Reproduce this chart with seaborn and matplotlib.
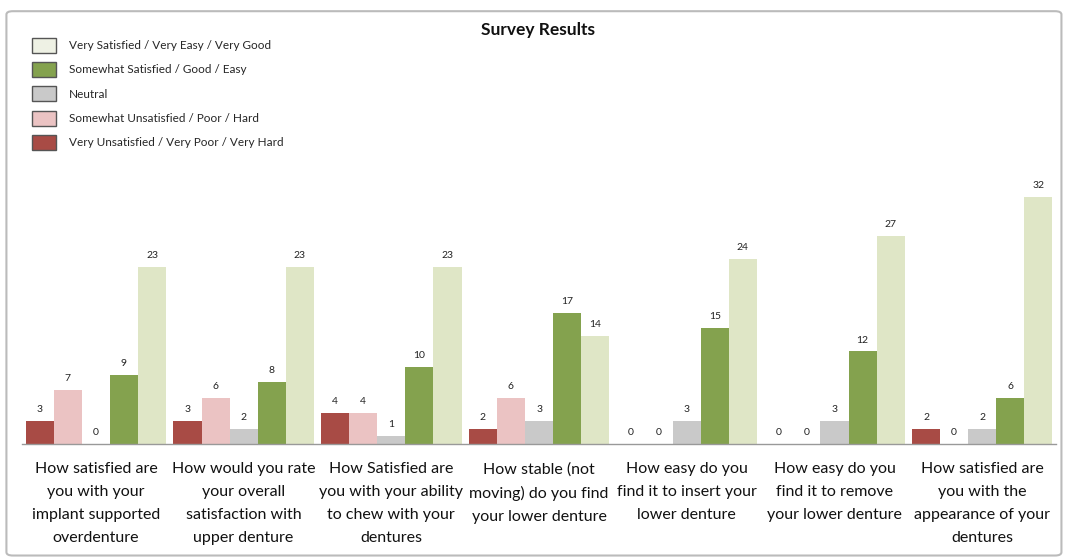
import matplotlib
matplotlib.use("Agg")
import matplotlib.pyplot as plt
import seaborn as sns
import pandas as pd
from matplotlib.patches import Patch, FancyBboxPatch

questions = [
    "How satisfied are\nyou with your\nimplant supported\noverdenture",
    "How would you rate\nyour overall\nsatisfaction with\nupper denture",
    "How Satisfied are\nyou with your ability\nto chew with your\ndentures",
    "How stable (not\nmoving) do you find\nyour lower denture",
    "How easy do you\nfind it to insert your\nlower denture",
    "How easy do you\nfind it to remove\nyour lower denture",
    "How satisfied are\nyou with the\nappearance of your\ndentures",
]
series_names = [
    "Very Unsatisfied / Very Poor / Very Hard",
    "Somewhat Unsatisfied / Poor / Hard",
    "Neutral",
    "Somewhat Satisfied / Good / Easy",
    "Very Satisfied / Very Easy / Very Good",
]
very_unsat = [3, 3, 4, 2, 0, 0, 2]
somewhat_unsat = [7, 6, 4, 6, 0, 0, 0]
neutral = [0, 2, 1, 3, 3, 3, 2]
somewhat_sat = [9, 8, 10, 17, 15, 12, 6]
very_sat = [23, 23, 23, 14, 24, 27, 32]
colors = ["#A84B45", "#EBC3C3", "#C9C9C9", "#84A24E", "#DFE6C6"]

series_values = [very_unsat, somewhat_unsat, neutral, somewhat_sat, very_sat]
rows = []
for name, vals in zip(series_names, series_values):
    for q, v in zip(questions, vals):
        rows.append({"Question": q, "Series": name, "Count": v})
df = pd.DataFrame(rows)

sns.set_style("white")
plt.rcParams["font.family"] = ["Lato", "DejaVu Sans"]

fig = plt.figure(figsize=(10.7, 5.6), dpi=100)
ax = fig.add_axes([0.0206, 0.207, 0.9664, 0.689])

sns.barplot(data=df, x="Question", y="Count", hue="Series", order=questions,
            hue_order=series_names, palette=colors, width=0.95, ax=ax,
            legend=False, saturation=1, edgecolor="none")

for c in ax.containers:
    ax.bar_label(c, fmt="%d", padding=5, fontsize=7.5, color="#222222")

ax.set_ylim(0, 50)
ax.set_xlim(-0.5, 6.5)
ax.set_xlabel("")
ax.set_ylabel("")
ax.set_yticks([])
for s in ["top", "right", "left"]:
    ax.spines[s].set_visible(False)
ax.spines["bottom"].set_color("#999999")
ax.spines["bottom"].set_linewidth(1.0)
ax.tick_params(axis="x", which="major", length=0, pad=13, labelsize=11.5,
               labelcolor="#111111")
ax.set_xticks([i - 0.5 for i in range(8)], minor=True)
ax.tick_params(axis="x", which="minor", length=5, color="#999999", width=1, direction="out")
ax.set_xticks(range(7))
ax.set_xticklabels(questions, linespacing=1.82)

fig.text(0.503, 0.947, "Survey Results", ha="center", va="center",
         fontsize=12.5, fontweight="bold", color="#111111")

handles = [Patch(facecolor=c, edgecolor="#555555", linewidth=1.0) for c in colors]
handles = handles[::-1]
labels = series_names[::-1]
handles[0] = Patch(facecolor="#EEF1E4", edgecolor="#555555", linewidth=1.0)
leg = fig.legend(handles, labels, loc="upper left", bbox_to_anchor=(0.02, 0.952),
                 frameon=False, fontsize=8.5, handlelength=2.0, handleheight=1.6,
                 handletextpad=1.1, labelspacing=0.78)

border = FancyBboxPatch((0.006, 0.008), 0.986, 0.972, boxstyle="round,pad=0,rounding_size=0.006",
                        transform=fig.transFigure, facecolor="none",
                        edgecolor="#BBBBBB", linewidth=1.5)
fig.patches.append(border)

fig.savefig("out.png", dpi=100)
